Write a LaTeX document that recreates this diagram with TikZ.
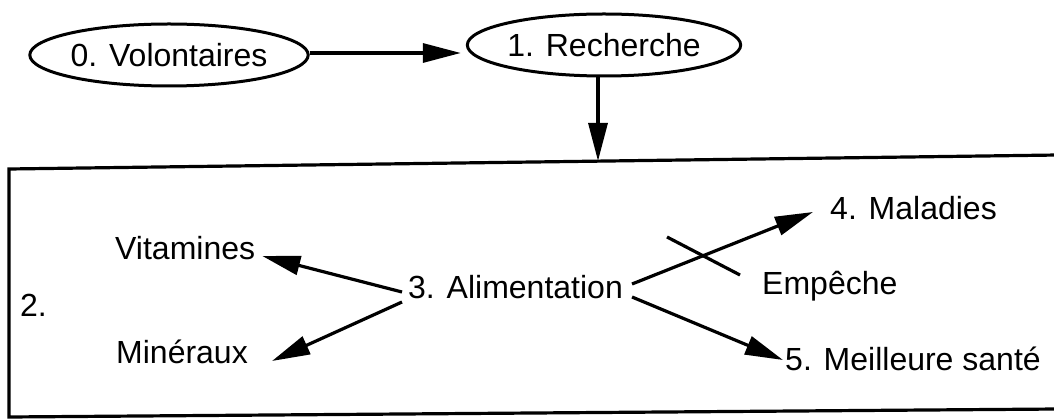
\documentclass[tikz,border=0pt]{standalone}
\usepackage{fontspec}
\setmainfont{Liberation Sans}
\usetikzlibrary{arrows.meta,shapes.geometric,calc}
\begin{document}
\begin{tikzpicture}[x=1pt,y=-1pt,
  lbl/.style={inner sep=0pt,anchor=base west,font=\fontsize{32}{38}\selectfont},
  oval/.style={ellipse,draw,line width=3pt,inner sep=0pt,font=\fontsize{32}{38}\selectfont},
  conn/.style={line width=3.2pt,-{Triangle[length=38pt,width=19pt]}},
  plain/.style={line width=3.2pt}]
\useasboundingbox (0,0) rectangle (1054,419);
\fill[white] (0,0) rectangle (1054,419);
% top ovals
\node[oval,minimum width=252pt,minimum height=62pt] (vol) at (169,55) {0. Volontaires};
\node[oval,minimum width=266pt,minimum height=62pt] (rech) at (604,45) {1. Recherche};
% box (slightly skewed, as scanned)
\coordinate (boxtop) at (598,161);
\draw[plain,line join=miter] (1058,155) -- (9,169) -- (9,417) -- (1058,409);
% labels inside box
\node[lbl] (two) at (20,317) {2.};
\node[lbl] (vit) at (115,260) {Vitamines};
\node[lbl] (min) at (116,363) {Minéraux};
\node[lbl] (alim) at (408,299) {3. Alimentation};
\node[lbl] (mal) at (830,220) {4. Maladies};
\node[lbl] (emp) at (762,295) {Empêche};
\node[lbl] (sante) at (785,370) {5. Meilleure santé};
% connectors
\draw[conn,shorten >=5pt] ($(vol.east)+(0,-2)$) -- ($(vol.east -| rech.west)+(0,-2)$);
\draw[conn] (rech.south -| boxtop) -- (boxtop);
\draw[conn] ($(alim.base west)+(-6,-7)$) -- ($(vit.base east)+(7,-4)$);
\draw[conn] ($(alim.base west)+(-6,3)$) -- ($(min.base east)+(24,-2)$);
\draw[conn] ($(alim.base east)+(9,-15)$) -- ($(mal.base west)+(-17,-8)$);
\draw[conn] ($(alim.base east)+(9,-2)$) -- ($(sante.base west)+(-2,-10)$);
% cross mark (Empeche)
\coordinate (crossA) at ($(emp.base west)+(-95,-58)$);
\coordinate (crossB) at ($(emp.base west)+(-22,-20)$);
\draw[plain] (crossA) -- (crossB);
\end{tikzpicture}
\end{document}
